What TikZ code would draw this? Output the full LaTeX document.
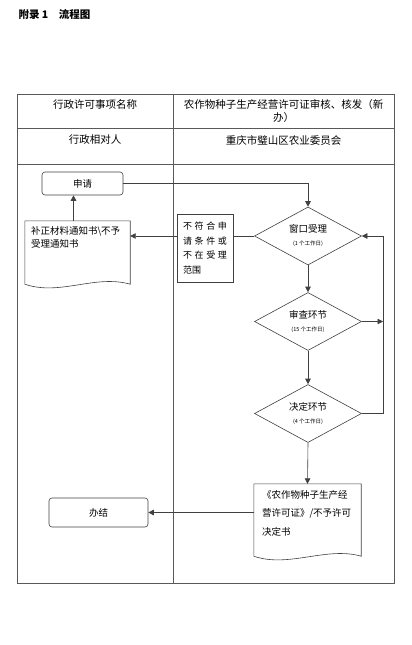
\documentclass[tikz,border=0pt]{standalone}
\usepackage{fontspec}
\setmainfont{Noto Sans CJK SC}
\usetikzlibrary{arrows.meta,positioning,calc,shapes.geometric}
\newcommand{\workdays}[1]{{\fontsize{5.5}{6}\selectfont(#1 个工作日)}}
\newcommand{\spreadline}[1]{\makebox[44pt][s]{#1}}

\begin{document}
\begin{tikzpicture}[
    x=1pt, y=-1pt,
    every node/.style={font=\fontsize{9.5}{13}\selectfont},
    grid/.style={draw=black!65, line width=0.8pt},
    head/.style={font=\fontsize{10.5}{13}\selectfont, align=center},
    endbox/.style={draw=black!75, line width=0.6pt, rounded corners=3pt},
    decision/.style={diamond, aspect=1.85, draw=black!75, line width=0.6pt,
        minimum width=107pt, minimum height=58pt, inner sep=0pt, align=center},
    docbox/.style={inner xsep=6pt, inner ysep=6pt},
    plainbox/.style={draw=black!75, line width=0.6pt, inner sep=0pt,
        minimum width=56pt, minimum height=68pt, text width=44pt, align=left,
        font=\fontsize{9}{14.5}\selectfont},
    link/.style={draw=black!75, line width=0.6pt},
    arrow/.style={link, -{Triangle[length=5.5pt,width=5.5pt]}}
]
\useasboundingbox (0,0) rectangle (412,645);

% ---- title ----
\node[anchor=west, font=\fontsize{10.5}{12}\selectfont\bfseries] (title) at (15,15) {附录 1\quad 流程图};

% ---- table frame ----
\draw[grid] (17,94) rectangle (394,583);
\draw[grid] (17,128) -- (394,128);
\draw[grid] (17,164) -- (394,164);
\draw[grid] (173,94) -- (173,583);

\node[head] (itemname) at (95,105) {行政许可事项名称};
\node[head] (itemtext) at (283.5,111.5) {农作物种子生产经营许可证审核、核发（新\\办）};
\node[head] (party) at (95,140) {行政相对人};
\node[head] (office) at (283.5,140) {重庆市璧山区农业委员会};

% ---- flow nodes ----
\node[endbox, minimum width=81pt, minimum height=23pt] (apply) at (82.5,183.5) {申请};
\node[decision] (window) at (308,236) {窗口受理\\\workdays{1}};
\node[decision] (review) at (308,321.5) {审查环节\\\workdays{15}};
\node[decision] (decide) at (308,413.5) {决定环节\\\workdays{4}};
\node[plainbox] (reject) at (205,248) {%
    \spreadline{不\hfill 符\hfill 合\hfill 申}\\
    \spreadline{请\hfill 条\hfill 件\hfill 或}\\
    \spreadline{不\hfill 在\hfill 受\hfill 理}\\
    范围};
\node[docbox] (notice) at (77.5,252.5) {%
    \parbox[c][51pt][t]{93pt}{\raggedright 补正材料通知书\textbackslash 不予\\受理通知书}};
\node[docbox, inner xsep=8pt] (licence) at (307.5,520) {%
    \parbox[c][60pt][t]{91pt}{\raggedright\fontsize{9.5}{18.5}\selectfont
    《农作物种子生产经\\营许可证》/不予许可\\决定书}};
\node[endbox, minimum width=99pt, minimum height=29pt] (done) at (98.5,512.5) {办结};
\coordinate (rail) at (383,236);

% ---- document outlines ----
\draw[link] (notice.north west) -- (notice.north east) -- (notice.south east)
    .. controls +(-35,-10) and +(35,12) .. (notice.south west) -- cycle;
\draw[link] (licence.north west) -- (licence.north east) -- (licence.south east)
    .. controls +(-35,-10) and +(35,12) .. (licence.south west) -- cycle;

% ---- connectors ----
\draw[arrow] (apply.east) -| (window.north);
\draw[link] (window.west) -- (window.west -| reject.east);
\draw[arrow] (window.west -| reject.west) -- (window.west -| notice.east);
\draw[arrow] ([xshift=-4pt]notice.north) -- ([xshift=-4pt]notice.north |- apply.south);
\draw[arrow] (window.south) -- (review.north);
\draw[arrow] (review.south) -- (decide.north);
\draw[arrow] (review.east) -- (review.east -| rail);
\draw[arrow] (decide.east) -| (rail) -- (window.east);
\draw[arrow] (decide.south) -- (licence.north);
\draw[arrow] (done.east -| licence.west) -- (done.east);
\end{tikzpicture}
\end{document}
